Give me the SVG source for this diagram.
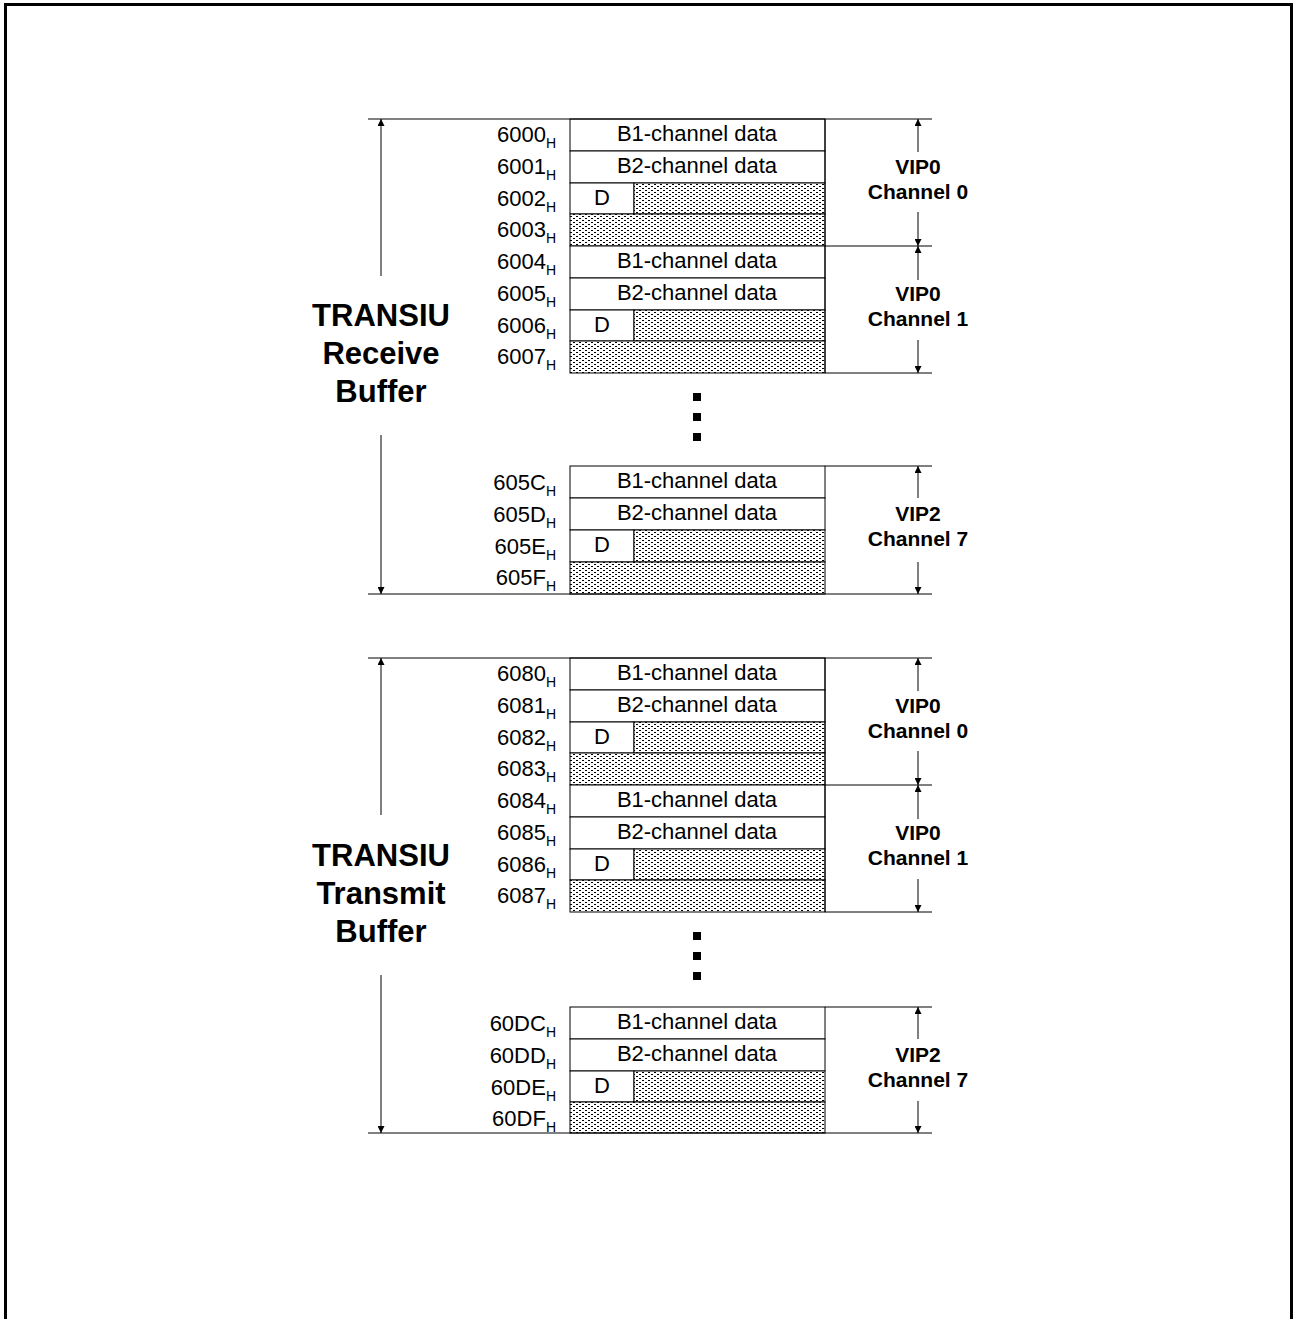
<svg xmlns="http://www.w3.org/2000/svg" width="1295" height="1319" viewBox="0 0 1295 1319">
<style>
.ln{stroke:#000;stroke-width:1;fill:none}
.box{stroke:#000;stroke-width:1;fill:#fff}
.hat{stroke:#000;stroke-width:1;fill:url(#dots)}
.addr{font-family:"Liberation Sans",Arial,sans-serif;font-size:22px;text-anchor:end}
.sub{font-size:14px}
.cell{font-family:"Liberation Sans",Arial,sans-serif;font-size:22px;text-anchor:middle}
.lab{font-family:"Liberation Sans",Arial,sans-serif;font-size:21px;font-weight:bold;text-anchor:middle}
.big{font-family:"Liberation Sans",Arial,sans-serif;font-size:31px;font-weight:bold;text-anchor:middle}
.arr{stroke:#000;stroke-width:1;fill:none;marker-end:url(#ah)}
</style>
<defs>
<pattern id="dots" width="6" height="4" patternUnits="userSpaceOnUse">
<rect width="6" height="4" fill="#fff"/>
<rect x="0" y="0" width="2" height="1" fill="#000"/>
<rect x="3" y="2" width="2" height="1" fill="#000"/>
</pattern>
<marker id="ah" viewBox="0 0 10 10" refX="10" refY="5" markerWidth="10" markerHeight="7" markerUnits="userSpaceOnUse" orient="auto">
<path d="M0,0 L10,5 L0,10 z" fill="#000"/>
</marker>
</defs>
<rect x="5.5" y="4.5" width="1286" height="1330" fill="none" stroke="#000" stroke-width="3"/>

<g id="rx-block0">
<rect class="box" x="570" y="119" width="255" height="32"/>
<rect class="box" x="570" y="151" width="255" height="32"/>
<rect class="box" x="570" y="183" width="64" height="31"/>
<rect class="hat" x="634" y="183" width="191" height="31"/>
<rect class="hat" x="570" y="214" width="255" height="32"/>
<text class="cell" x="697" y="141">B1-channel data</text>
<text class="cell" x="697" y="173">B2-channel data</text>
<text class="cell" x="602" y="205">D</text>
<text class="addr" x="556" y="142">6000<tspan class="sub" dy="6">H</tspan></text>
<text class="addr" x="556" y="174">6001<tspan class="sub" dy="6">H</tspan></text>
<text class="addr" x="556" y="206">6002<tspan class="sub" dy="6">H</tspan></text>
<text class="addr" x="556" y="237">6003<tspan class="sub" dy="6">H</tspan></text>
<text class="lab" x="918" y="174">VIP0</text>
<text class="lab" x="918" y="199">Channel 0</text>
</g>
<g id="rx-block1">
<rect class="box" x="570" y="246" width="255" height="32"/>
<rect class="box" x="570" y="278" width="255" height="32"/>
<rect class="box" x="570" y="310" width="64" height="31"/>
<rect class="hat" x="634" y="310" width="191" height="31"/>
<rect class="hat" x="570" y="341" width="255" height="32"/>
<text class="cell" x="697" y="268">B1-channel data</text>
<text class="cell" x="697" y="300">B2-channel data</text>
<text class="cell" x="602" y="332">D</text>
<text class="addr" x="556" y="269">6004<tspan class="sub" dy="6">H</tspan></text>
<text class="addr" x="556" y="301">6005<tspan class="sub" dy="6">H</tspan></text>
<text class="addr" x="556" y="333">6006<tspan class="sub" dy="6">H</tspan></text>
<text class="addr" x="556" y="364">6007<tspan class="sub" dy="6">H</tspan></text>
<text class="lab" x="918" y="301">VIP0</text>
<text class="lab" x="918" y="326">Channel 1</text>
</g>
<g id="rx-dots">
<rect x="693" y="393" width="8" height="8"/>
<rect x="693" y="413" width="8" height="8"/>
<rect x="693" y="433" width="8" height="8"/>
</g>
<g id="rx-block7">
<rect class="box" x="570" y="466" width="255" height="32"/>
<rect class="box" x="570" y="498" width="255" height="32"/>
<rect class="box" x="570" y="530" width="64" height="32"/>
<rect class="hat" x="634" y="530" width="191" height="32"/>
<rect class="hat" x="570" y="562" width="255" height="32"/>
<text class="cell" x="697" y="488">B1-channel data</text>
<text class="cell" x="697" y="520">B2-channel data</text>
<text class="cell" x="602" y="552">D</text>
<text class="addr" x="556" y="490">605C<tspan class="sub" dy="6">H</tspan></text>
<text class="addr" x="556" y="522">605D<tspan class="sub" dy="6">H</tspan></text>
<text class="addr" x="556" y="554">605E<tspan class="sub" dy="6">H</tspan></text>
<text class="addr" x="556" y="585">605F<tspan class="sub" dy="6">H</tspan></text>
<text class="lab" x="918" y="521">VIP2</text>
<text class="lab" x="918" y="546">Channel 7</text>
</g>
<g id="rx-title">
<text class="big" x="381" y="326">TRANSIU</text>
<text class="big" x="381" y="364">Receive</text>
<text class="big" x="381" y="402">Buffer</text>
</g>

<g id="tx-block0">
<rect class="box" x="570" y="658" width="255" height="32"/>
<rect class="box" x="570" y="690" width="255" height="32"/>
<rect class="box" x="570" y="722" width="64" height="31"/>
<rect class="hat" x="634" y="722" width="191" height="31"/>
<rect class="hat" x="570" y="753" width="255" height="32"/>
<text class="cell" x="697" y="680">B1-channel data</text>
<text class="cell" x="697" y="712">B2-channel data</text>
<text class="cell" x="602" y="744">D</text>
<text class="addr" x="556" y="681">6080<tspan class="sub" dy="6">H</tspan></text>
<text class="addr" x="556" y="713">6081<tspan class="sub" dy="6">H</tspan></text>
<text class="addr" x="556" y="745">6082<tspan class="sub" dy="6">H</tspan></text>
<text class="addr" x="556" y="776">6083<tspan class="sub" dy="6">H</tspan></text>
<text class="lab" x="918" y="713">VIP0</text>
<text class="lab" x="918" y="738">Channel 0</text>
</g>
<g id="tx-block1">
<rect class="box" x="570" y="785" width="255" height="32"/>
<rect class="box" x="570" y="817" width="255" height="32"/>
<rect class="box" x="570" y="849" width="64" height="31"/>
<rect class="hat" x="634" y="849" width="191" height="31"/>
<rect class="hat" x="570" y="880" width="255" height="32"/>
<text class="cell" x="697" y="807">B1-channel data</text>
<text class="cell" x="697" y="839">B2-channel data</text>
<text class="cell" x="602" y="871">D</text>
<text class="addr" x="556" y="808">6084<tspan class="sub" dy="6">H</tspan></text>
<text class="addr" x="556" y="840">6085<tspan class="sub" dy="6">H</tspan></text>
<text class="addr" x="556" y="872">6086<tspan class="sub" dy="6">H</tspan></text>
<text class="addr" x="556" y="903">6087<tspan class="sub" dy="6">H</tspan></text>
<text class="lab" x="918" y="840">VIP0</text>
<text class="lab" x="918" y="865">Channel 1</text>
</g>
<g id="tx-dots">
<rect x="693" y="932" width="8" height="8"/>
<rect x="693" y="952" width="8" height="8"/>
<rect x="693" y="972" width="8" height="8"/>
</g>
<g id="tx-block7">
<rect class="box" x="570" y="1007" width="255" height="32"/>
<rect class="box" x="570" y="1039" width="255" height="32"/>
<rect class="box" x="570" y="1071" width="64" height="31"/>
<rect class="hat" x="634" y="1071" width="191" height="31"/>
<rect class="hat" x="570" y="1102" width="255" height="31"/>
<text class="cell" x="697" y="1029">B1-channel data</text>
<text class="cell" x="697" y="1061">B2-channel data</text>
<text class="cell" x="602" y="1093">D</text>
<text class="addr" x="556" y="1031">60DC<tspan class="sub" dy="6">H</tspan></text>
<text class="addr" x="556" y="1063">60DD<tspan class="sub" dy="6">H</tspan></text>
<text class="addr" x="556" y="1095">60DE<tspan class="sub" dy="6">H</tspan></text>
<text class="addr" x="556" y="1126">60DF<tspan class="sub" dy="6">H</tspan></text>
<text class="lab" x="918" y="1062">VIP2</text>
<text class="lab" x="918" y="1087">Channel 7</text>
</g>
<g id="tx-title">
<text class="big" x="381" y="866">TRANSIU</text>
<text class="big" x="381" y="904">Transmit</text>
<text class="big" x="381" y="942">Buffer</text>
</g>

<g id="connectors">
<line class="ln" x1="368" y1="119" x2="932" y2="119"/>
<line class="ln" x1="825" y1="246" x2="932" y2="246"/>
<line class="ln" x1="825" y1="373" x2="932" y2="373"/>
<line class="ln" x1="825" y1="119" x2="825" y2="373"/>
<line class="ln" x1="825" y1="466" x2="932" y2="466"/>
<line class="ln" x1="368" y1="594" x2="932" y2="594"/>
<line class="arr" x1="381" y1="276" x2="381" y2="119"/>
<line class="arr" x1="381" y1="435" x2="381" y2="594"/>
<line class="arr" x1="918" y1="152" x2="918" y2="119"/>
<line class="arr" x1="918" y1="212" x2="918" y2="246"/>
<line class="arr" x1="918" y1="280" x2="918" y2="246"/>
<line class="arr" x1="918" y1="340" x2="918" y2="373"/>
<line class="arr" x1="918" y1="498" x2="918" y2="466"/>
<line class="arr" x1="918" y1="562" x2="918" y2="594"/>

<line class="ln" x1="368" y1="658" x2="932" y2="658"/>
<line class="ln" x1="825" y1="785" x2="932" y2="785"/>
<line class="ln" x1="825" y1="912" x2="932" y2="912"/>
<line class="ln" x1="825" y1="658" x2="825" y2="912"/>
<line class="ln" x1="825" y1="1007" x2="932" y2="1007"/>
<line class="ln" x1="368" y1="1133" x2="932" y2="1133"/>
<line class="arr" x1="381" y1="815" x2="381" y2="658"/>
<line class="arr" x1="381" y1="975" x2="381" y2="1133"/>
<line class="arr" x1="918" y1="691" x2="918" y2="658"/>
<line class="arr" x1="918" y1="751" x2="918" y2="785"/>
<line class="arr" x1="918" y1="819" x2="918" y2="785"/>
<line class="arr" x1="918" y1="879" x2="918" y2="912"/>
<line class="arr" x1="918" y1="1039" x2="918" y2="1007"/>
<line class="arr" x1="918" y1="1101" x2="918" y2="1133"/>
</g>
</svg>
